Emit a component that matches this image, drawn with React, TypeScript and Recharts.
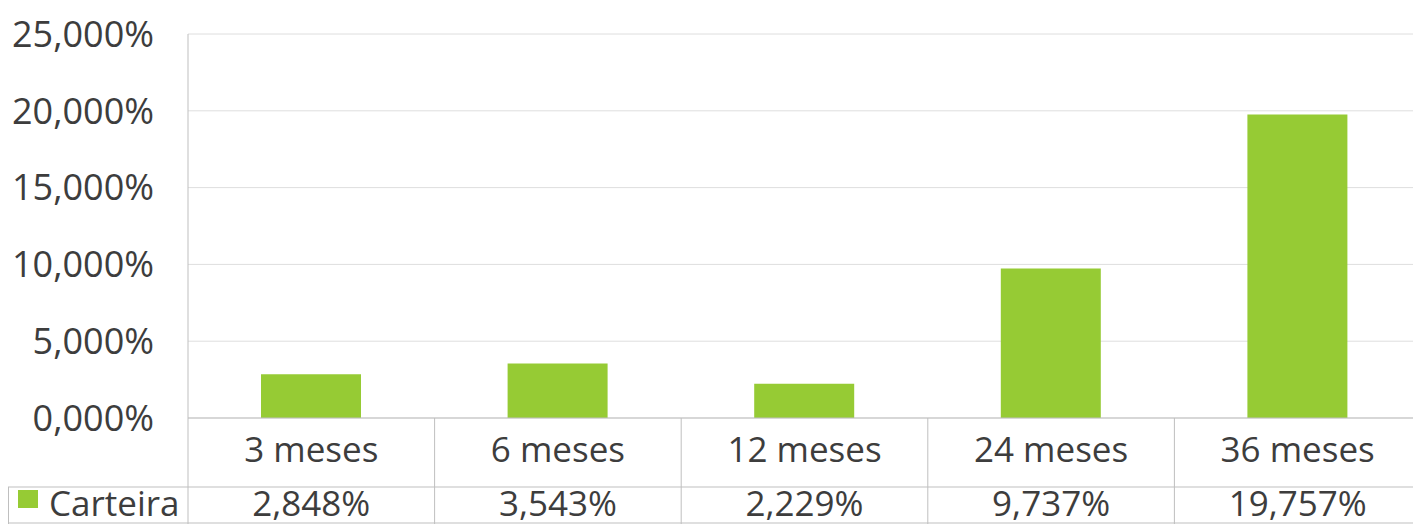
import React from "react";
import { BarChart, Bar, CartesianGrid, XAxis, YAxis } from "recharts";

const categories = ["3 meses", "6 meses", "12 meses", "24 meses", "36 meses"];
const carteira = [2.848, 3.543, 2.229, 9.737, 19.757];
const yTicks = [0, 5, 10, 15, 20, 25];
const seriesName = "Carteira";

const data = categories.map((name, i) => ({ name, carteira: carteira[i] }));

const W = 1413;
const H = 516;
const AXIS_W = 180;
const TABLE_H = 106;
const TOP = 26;
const PLOT_BOTTOM = H - TABLE_H;
const ROW_SPLIT = 479;
const COL = (W - AXIS_W) / categories.length;
const GREEN = "#96cb34";
const LINE = "#bfbfbf";
const TEXT = "#3d3d3d";
const FONT = "'Open Sans', 'Noto Sans', sans-serif";

const pct = (v: number) => `${v.toFixed(3).replace(".", ",")}%`;

function TableTick(props: any) {
  const { payload } = props;
  const i = payload.index;
  const cx = payload.coordinate;
  const left = cx - COL / 2;
  const right = cx + COL / 2;
  return (
    <g fontFamily={FONT}>
      <text x={cx} y={440} textAnchor="middle" dominantBaseline="central" fontSize={35} fill={TEXT}>
        {categories[i]}
      </text>
      <text x={cx} y={494} textAnchor="middle" dominantBaseline="central" fontSize={35} fill={TEXT}>
        {pct(carteira[i])}
      </text>
      {i < categories.length - 1 && (
        <line x1={right} y1={PLOT_BOTTOM} x2={right} y2={H} stroke={LINE} />
      )}
      {i === 0 && (
        <g>
          <line x1={left} y1={TOP} x2={left} y2={H} stroke={LINE} />
          <line x1={0} y1={ROW_SPLIT} x2={W} y2={ROW_SPLIT} stroke={LINE} />
          <line x1={0} y1={H - 1} x2={W} y2={H - 1} stroke={LINE} />
          <line x1={0.5} y1={ROW_SPLIT} x2={0.5} y2={H} stroke={LINE} />
          <rect x={10} y={482} width={20} height={18} fill={GREEN} />
          <text x={41} y={494} dominantBaseline="central" fontSize={35} fill={TEXT}>
            {seriesName}
          </text>
        </g>
      )}
    </g>
  );
}

export default function App() {
  return (
    <div style={{ width: W, height: H, background: "#fff" }}>
      <BarChart
        width={W}
        height={H}
        data={data}
        margin={{ top: TOP, right: 0, left: 0, bottom: 0 }}
      >
        <CartesianGrid horizontal vertical={false} stroke="#dedede" />
        <XAxis
          dataKey="name"
          height={TABLE_H}
          interval={0}
          tickLine={false}
          axisLine={{ stroke: LINE }}
          tick={<TableTick />}
        />
        <YAxis
          width={AXIS_W}
          domain={[0, 25]}
          ticks={yTicks}
          tickFormatter={pct}
          tickLine={false}
          axisLine={false}
          tickMargin={28}
          tick={{ fill: TEXT, fontSize: 36, fontFamily: FONT }}
        />
        <Bar dataKey="carteira" fill={GREEN} barSize={100} isAnimationActive={false} />
      </BarChart>
    </div>
  );
}
